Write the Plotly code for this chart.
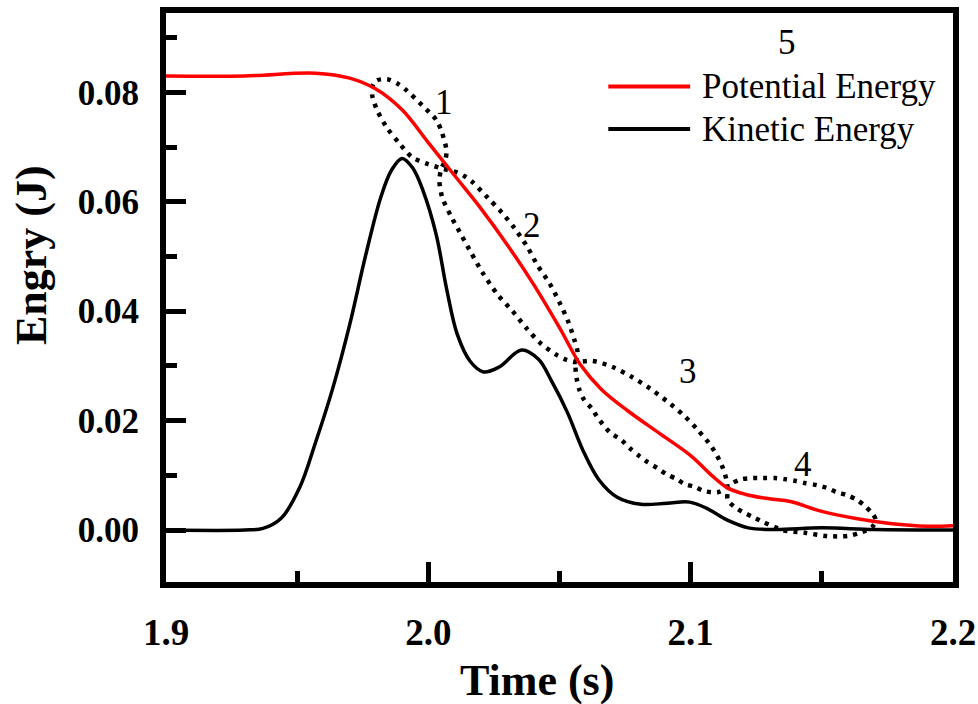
import plotly.graph_objects as go

# ---------------- data ----------------
pe_t = [1.900, 1.930, 1.957, 1.970, 1.980, 1.990, 2.000, 2.010, 2.020, 2.030,
        2.040, 2.050, 2.058, 2.066, 2.076, 2.088, 2.100, 2.108, 2.114, 2.121,
        2.130, 2.138, 2.150, 2.163, 2.176, 2.190, 2.200]
pe_e = [0.0830, 0.0830, 0.0835, 0.0826, 0.0806, 0.0768, 0.0708, 0.0648, 0.0588, 0.0522,
        0.0450, 0.0370, 0.0302, 0.0257, 0.0218, 0.0177, 0.0136, 0.0100, 0.0077, 0.0065,
        0.0057, 0.0052, 0.0034, 0.0021, 0.0012, 0.0007, 0.0008]

ke_t = [1.900, 1.930, 1.937, 1.944, 1.951, 1.957, 1.9635, 1.970, 1.976, 1.982,
        1.986, 1.990, 1.994, 1.998, 2.003, 2.007, 2.011, 2.016, 2.021, 2.027,
        2.0355, 2.042, 2.047, 2.053, 2.059, 2.065, 2.072, 2.081, 2.091, 2.0996,
        2.106, 2.114, 2.122, 2.132, 2.150, 2.170, 2.200]
ke_e = [0.0, 0.0, 0.0003, 0.0022, 0.0078, 0.0160, 0.0258, 0.0375, 0.0500, 0.0610,
        0.0658, 0.0679, 0.0662, 0.0620, 0.0540, 0.0440, 0.0358, 0.0308, 0.0289, 0.0298,
        0.0329, 0.0312, 0.0272, 0.0215, 0.0145, 0.0092, 0.0060, 0.0047, 0.0049, 0.0051,
        0.0040, 0.0018, 0.0004, 0.0001, 0.0004, 0.0001, 0.0]

# dotted outline of the stage regions 1-4 (one closed path, data units)
loop_t = [1.9790, 1.9805, 1.9844, 1.9882, 1.9916, 1.9977, 2.0031, 2.0053, 2.0069, 2.0065,
          2.0050, 2.0042, 2.0053, 2.0088, 2.0126, 2.0164, 2.0206, 2.0263, 2.0321, 2.0374,
          2.0424, 2.0489, 2.0527, 2.0561, 2.0626, 2.0702, 2.0775, 2.0844, 2.0908, 2.0973,
          2.1027, 2.1080, 2.1118, 2.1137, 2.1141, 2.1141, 2.1168, 2.1198, 2.1237, 2.1275,
          2.1351, 2.1435, 2.1519, 2.1599, 2.1645, 2.1691, 2.1706, 2.1691, 2.1664, 2.1634,
          2.1595, 2.1557, 2.1519, 2.1481, 2.1435, 2.1397, 2.1359, 2.1321, 2.1275, 2.1237,
          2.1195, 2.1160, 2.1137, 2.1103, 2.1053, 2.1015, 2.0977, 2.0947, 2.0908, 2.0874,
          2.0836, 2.0805, 2.0767, 2.0737, 2.0691, 2.0645, 2.0622, 2.0595, 2.0576, 2.0565,
          2.0561, 2.0569, 2.0557, 2.0534, 2.0500, 2.0462, 2.0416, 2.0378, 2.0328, 2.0279,
          2.0225, 2.0168, 2.0137, 2.0107, 2.0050, 1.9992, 1.9939, 1.9889, 1.9844, 1.9805,
          1.9786, 1.9790]
loop_e = [0.0815, 0.0822, 0.0824, 0.0816, 0.0804, 0.0776, 0.0749, 0.0725, 0.0694, 0.0676,
          0.0661, 0.0639, 0.0608, 0.0572, 0.0539, 0.0506, 0.0471, 0.0431, 0.0400, 0.0369,
          0.0343, 0.0320, 0.0311, 0.0307, 0.0309, 0.0298, 0.0280, 0.0259, 0.0236, 0.0210,
          0.0183, 0.0152, 0.0119, 0.0091, 0.0073, 0.0055, 0.0042, 0.0033, 0.0024, 0.0015,
          0.0000, -0.0005, -0.0011, -0.0011, -0.0005, 0.0005, 0.0018, 0.0031, 0.0044, 0.0055,
          0.0064, 0.0069, 0.0077, 0.0082, 0.0086, 0.0090, 0.0093, 0.0095, 0.0095, 0.0095,
          0.0093, 0.0086, 0.0077, 0.0069, 0.0071, 0.0079, 0.0084, 0.0093, 0.0102, 0.0113,
          0.0124, 0.0135, 0.0150, 0.0164, 0.0179, 0.0206, 0.0223, 0.0237, 0.0256, 0.0278,
          0.0301, 0.0325, 0.0347, 0.0380, 0.0416, 0.0451, 0.0484, 0.0517, 0.0552, 0.0581,
          0.0608, 0.0636, 0.0647, 0.0654, 0.0661, 0.0670, 0.0681, 0.0707, 0.0734, 0.0767,
          0.0795, 0.0815]

stage_labels = ["1", "2", "3", "4", "5"]
stage_t = [2.0061, 2.0397, 2.0989, 2.1427, 2.1366]
stage_e = [0.0782, 0.0557, 0.0289, 0.0119, 0.0891]

x_ticks = [1.9, 2.0, 2.1, 2.2]
x_tick_text = ["1.9", "2.0", "2.1", "2.2"]
y_ticks = [0.00, 0.02, 0.04, 0.06, 0.08]
y_tick_text = ["0.00", "0.02", "0.04", "0.06", "0.08"]

series_names = ["Potential Energy", "Kinetic Energy"]
series_colors = ["#ff0000", "#000000"]

# ---------------- figure ----------------
SERIF = "Liberation Serif, Times New Roman, serif"

fig = go.Figure()
fig.add_trace(go.Scatter(x=loop_t, y=loop_e, mode="lines",
                         line=dict(color="black", width=4.5, dash="4px,6px", shape="spline", smoothing=0.8),
                         hoverinfo="skip", showlegend=False))
fig.add_trace(go.Scatter(x=ke_t, y=ke_e, mode="lines", name=series_names[1],
                         line=dict(color=series_colors[1], width=3.5, shape="spline", smoothing=1.0),
                         showlegend=False))
fig.add_trace(go.Scatter(x=pe_t, y=pe_e, mode="lines", name=series_names[0],
                         line=dict(color=series_colors[0], width=3.5, shape="spline", smoothing=1.0),
                         showlegend=False))

# stage numbers
for lab, t, e in zip(stage_labels, stage_t, stage_e):
    fig.add_annotation(x=t, y=e, text=lab, showarrow=False,
                       font=dict(family=SERIF, size=35, color="black"),
                       xanchor="center", yanchor="middle")

# custom legend (long line samples like the original)
legend_rows_y = [0.871, 0.796]
for name, col, yy in zip(series_names, series_colors, legend_rows_y):
    fig.add_shape(type="line", xref="paper", yref="paper",
                  x0=0.562, x1=0.666, y0=yy, y1=yy,
                  line=dict(color=col, width=4))
    fig.add_annotation(xref="paper", yref="paper", x=0.679, y=yy, text=name,
                       showarrow=False, xanchor="left", yanchor="middle",
                       font=dict(family=SERIF, size=35, color="black"))

# axis titles
fig.add_annotation(xref="paper", yref="paper", x=-0.170, y=0.575, text="<b>Engry (J)</b>",
                   textangle=-90, showarrow=False, xanchor="center", yanchor="middle",
                   font=dict(family=SERIF, size=44, color="black"))
fig.add_annotation(xref="paper", yref="paper", x=0.4717, y=-0.173, text="<b>Time (s)</b>",
                   showarrow=False, xanchor="center", yanchor="middle",
                   font=dict(family=SERIF, size=44, color="black"))

axis_common = dict(showline=True, linecolor="black", linewidth=6, mirror=True,
                   showgrid=False, zeroline=False, ticks="inside", tickwidth=5,
                   ticklen=20, tickcolor="black", automargin=False,
                   ticklabeloverflow="allow")

fig.update_xaxes(range=[1.9, 2.2], tickvals=x_ticks, ticktext=x_tick_text,
                 tickfont=dict(family=SERIF, size=37, color="black", weight="bold"),
                 minor=dict(ticks="inside", ticklen=11, tickwidth=5, tickcolor="black", dtick=0.05),
                 ticklabelstandoff=13, **axis_common)
fig.update_yaxes(range=[-0.0095, 0.0945], tickvals=y_ticks, ticktext=y_tick_text,
                 tickfont=dict(family=SERIF, size=35, color="black", weight="bold"),
                 minor=dict(ticks="inside", ticklen=11, tickwidth=5, tickcolor="black", dtick=0.01),
                 ticklabelstandoff=14, **axis_common)

fig.update_layout(width=978, height=704, autosize=False,
                  margin=dict(l=166, r=25, t=13, b=122),
                  paper_bgcolor="white", plot_bgcolor="white",
                  showlegend=False)

fig.write_html("out.html")
